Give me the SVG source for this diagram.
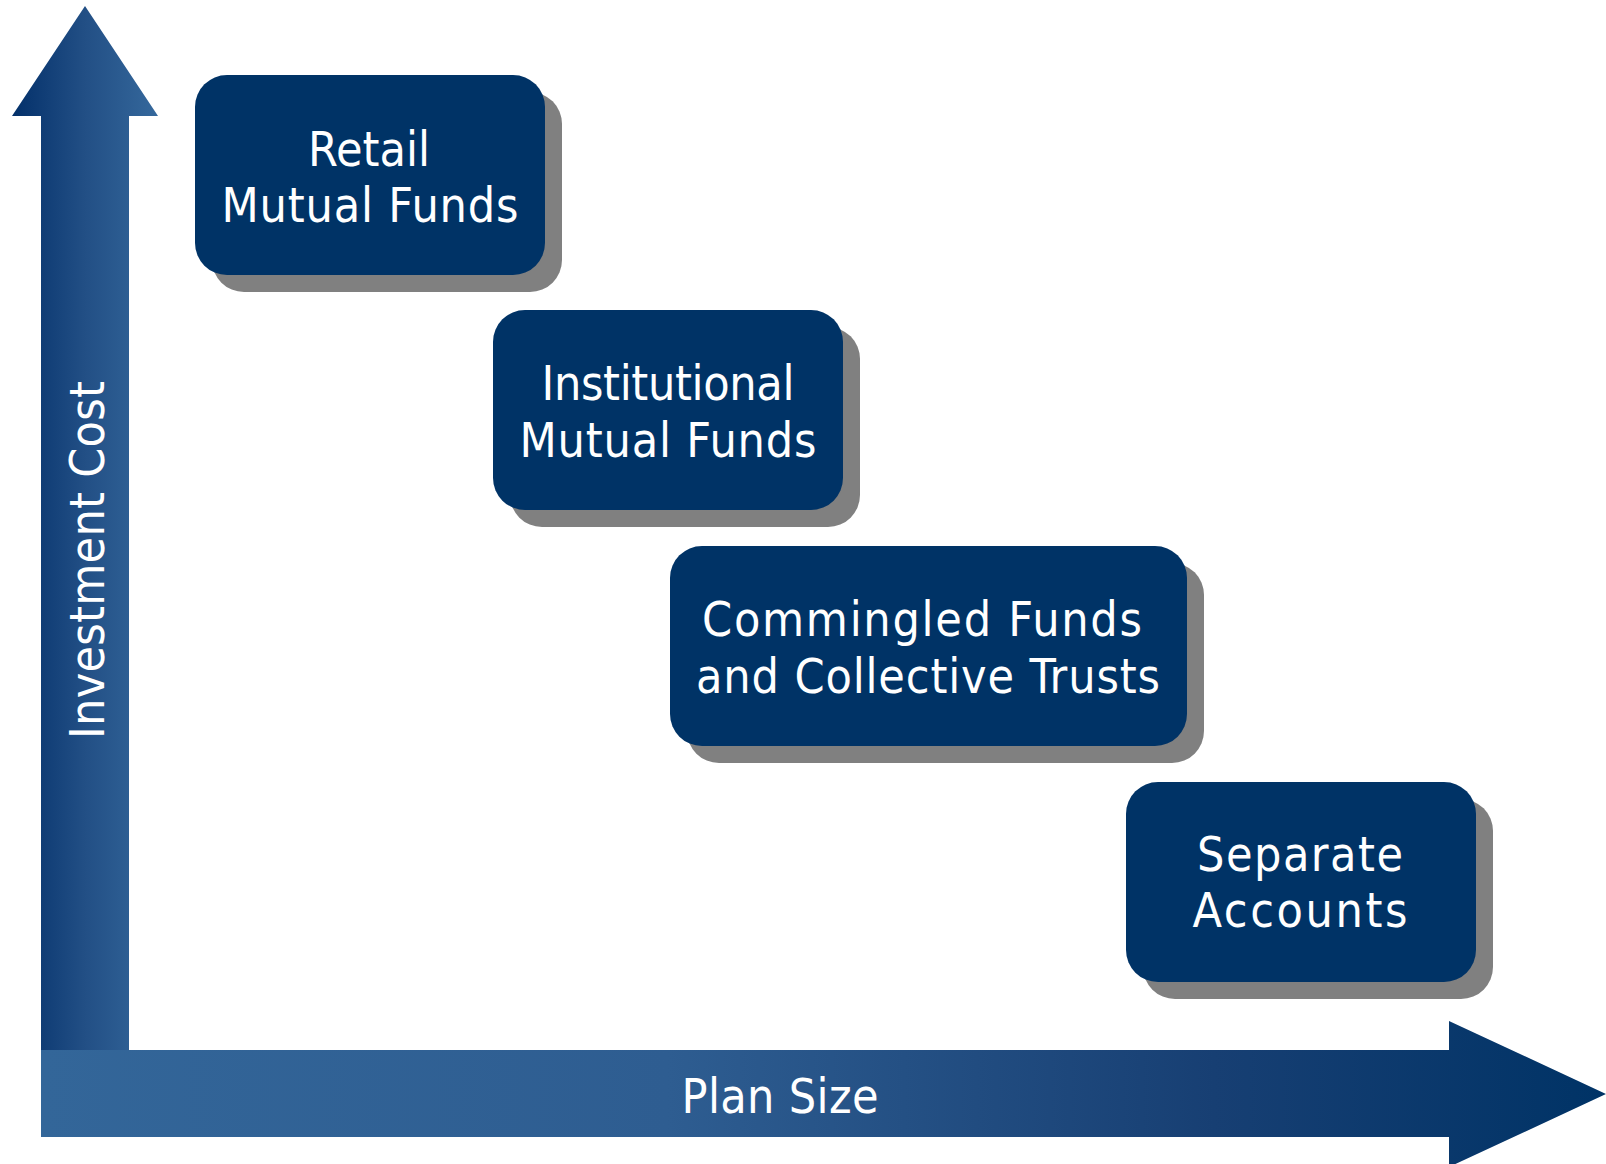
<svg xmlns="http://www.w3.org/2000/svg" width="1606" height="1164" viewBox="0 0 1606 1164">
<defs>
<linearGradient id="gv" gradientUnits="userSpaceOnUse" x1="12" y1="0" x2="158" y2="0">
<stop offset="0" stop-color="#03306a"/>
<stop offset="0.5" stop-color="#224f85"/>
<stop offset="1" stop-color="#35689c"/>
</linearGradient>
<linearGradient id="gh" gradientUnits="userSpaceOnUse" x1="41" y1="0" x2="1606" y2="0">
<stop offset="0" stop-color="#336699"/>
<stop offset="0.4" stop-color="#2e5d91"/>
<stop offset="0.75" stop-color="#173f73"/>
<stop offset="1" stop-color="#003366"/>
</linearGradient>
<style>
.box{fill:#003366;}
.shadow{fill:#808080;}
.lbl{font-family:"DejaVu Sans Condensed","DejaVu Sans","Open Sans",sans-serif;font-size:48px;fill:#ffffff;text-anchor:middle;}
</style>
</defs>
<g id="axes">
<polygon id="y-axis" fill="url(#gv)" points="85,6 158,116 129,116 129,1051 41,1051 41,116 12,116"/>
<polygon id="x-axis" fill="url(#gh)" points="41,1050 1449,1050 1449,1021 1606,1094 1449,1167 1449,1137 41,1137"/>
<text class="lbl" transform="translate(104,560) rotate(-90)" textLength="358">Investment Cost</text>
<text class="lbl" x="780" y="1113" textLength="197">Plan Size</text>
</g>
<g id="connectors"></g>
<g id="node-retail">
<rect class="shadow" x="212" y="92" width="350" height="200" rx="32"/>
<rect class="box" x="195" y="75" width="350" height="200" rx="32"/>
<text class="lbl" x="369" y="166" textLength="122">Retail</text>
<text class="lbl" x="370" y="222" textLength="297">Mutual Funds</text>
</g>
<g id="node-institutional">
<rect class="shadow" x="510" y="327" width="350" height="200" rx="32"/>
<rect class="box" x="493" y="310" width="350" height="200" rx="32"/>
<text class="lbl" x="668" y="400" textLength="253">Institutional</text>
<text class="lbl" x="668" y="457" textLength="297">Mutual Funds</text>
</g>
<g id="node-commingled">
<rect class="shadow" x="687" y="563" width="517" height="200" rx="32"/>
<rect class="box" x="670" y="546" width="517" height="200" rx="32"/>
<text class="lbl" x="922" y="636" textLength="440">Commingled Funds</text>
<text class="lbl" x="928" y="693" textLength="464">and Collective Trusts</text>
</g>
<g id="node-separate">
<rect class="shadow" x="1143" y="799" width="350" height="200" rx="32"/>
<rect class="box" x="1126" y="782" width="350" height="200" rx="32"/>
<text class="lbl" x="1300" y="871" textLength="206">Separate</text>
<text class="lbl" x="1300" y="927" textLength="215">Accounts</text>
</g>
</svg>
